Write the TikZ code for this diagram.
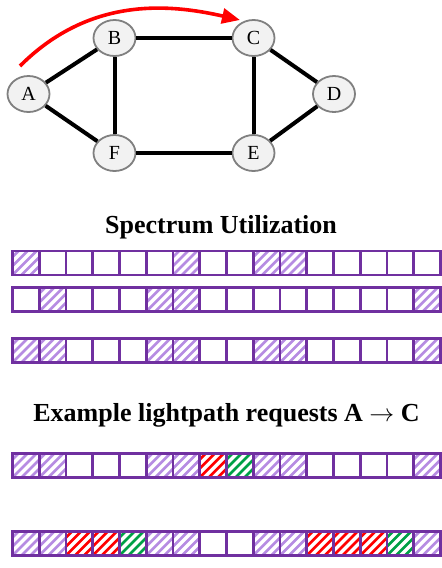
\documentclass[tikz,border=0pt]{standalone}
\usepackage{fontspec}
\setmainfont{Liberation Serif}
\usetikzlibrary{arrows.meta,calc,shapes.geometric}

\definecolor{slotline}{RGB}{112,48,160}
\definecolor{hatchp}{RGB}{182,140,226}
\definecolor{hatchr}{RGB}{255,0,0}
\definecolor{hatchg}{RGB}{0,160,70}
\definecolor{vertexfill}{RGB}{242,242,242}
\definecolor{vertexline}{RGB}{128,128,128}

\tikzset{
  vertex/.style={ellipse, draw=vertexline, fill=vertexfill, line width=1.8pt,
    minimum width=42pt, minimum height=36pt, inner sep=0pt,
    font=\fontsize{20}{24}\selectfont},
  link/.style={line width=4pt, black},
  path arrow/.style={line width=3.6pt, red, -{Triangle[length=18pt,width=15pt]}},
  heading/.style={font=\fontsize{26}{30}\selectfont\bfseries, anchor=base, inner sep=0pt},
  % diagonal hatching clipped to the slot
  hatch/.style={path picture={
    \foreach \d in {-36,-27,...,36}
      \draw[line width=2.8pt, #1]
        ($(path picture bounding box.south west)+(\d,0)$) -- ++(36,-36);}},
  slot/.style={rectangle, draw=slotline, line width=2.6pt, anchor=north west,
    minimum width=26.75pt, minimum height=24pt, inner sep=0pt, outer sep=0pt},
  slote/.style={slot},
  slotp/.style={slot, hatch=hatchp},
  slotr/.style={slot, hatch=hatchr},
  slotg/.style={slot, hatch=hatchg},
}

\begin{document}
\begin{tikzpicture}[x=1pt, y=-1pt]
  \useasboundingbox (0,0) rectangle (442,568);

  % network topology
  \node[vertex] (A) at (28.5,94) {A};
  \node[vertex] (B) at (114.5,38) {B};
  \node[vertex] (C) at (253.5,38) {C};
  \node[vertex] (D) at (334,94) {D};
  \node[vertex] (E) at (253.5,153) {E};
  \node[vertex] (F) at (114.5,153) {F};

  \draw[link] (A) -- (B);
  \draw[link] (A) -- (F);
  \draw[link] (B) -- (C);
  \draw[link] (B) -- (F);
  \draw[link] (C) -- (D);
  \draw[link] (C) -- (E);
  \draw[link] (D) -- (E);
  \draw[link] (F) -- (E);

  % requested lightpath A -> C
  \coordinate (pathstart) at (20,66);
  \coordinate (pathend) at (240,20);
  \draw[path arrow] (pathstart) .. controls (90,-4) and (170,4) .. (pathend);

  % spectrum slots per link
  \node[heading] (title1) at (221,233) {Spectrum Utilization};

  \foreach \k [count=\i] in {p,e,e,e,e,e,p,e,e,p,p,e,e,e,e,e}
    \node[slot\k] (ra\i) at ({12.5+(\i-1)*26.75},251) {};
  \foreach \k [count=\i] in {e,p,e,e,e,p,p,e,e,e,e,e,e,e,e,p}
    \node[slot\k] (rb\i) at ({12.5+(\i-1)*26.75},287.5) {};
  \foreach \k [count=\i] in {p,p,e,e,e,p,p,e,e,p,p,e,e,e,e,p}
    \node[slot\k] (rc\i) at ({12.5+(\i-1)*26.75},338.5) {};

  \node[heading] (title2) at (226.5,421.5) {Example lightpath requests A $\rightarrow$ C};

  \foreach \k [count=\i] in {p,p,e,e,e,p,p,r,g,p,p,e,e,e,e,p}
    \node[slot\k] (rd\i) at ({12.5+(\i-1)*26.75},453.5) {};
  \foreach \k [count=\i] in {p,p,r,r,g,p,p,e,e,p,p,r,r,r,g,p}
    \node[slot\k] (re\i) at ({12.5+(\i-1)*26.75},531.5) {};
\end{tikzpicture}
\end{document}
